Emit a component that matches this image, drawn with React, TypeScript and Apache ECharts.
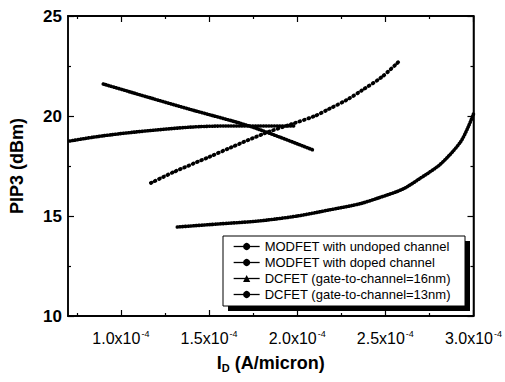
import React, { useEffect, useRef } from "react";
import * as echarts from "echarts";

// x values in units of 1e-4 A/micron, y in dBm
const undopedX = [1.32, 1.55, 1.78, 2.0, 2.18, 2.35, 2.46, 2.6, 2.7, 2.8, 2.87, 2.93, 2.97, 3.0];
const undopedY = [14.45, 14.6, 14.75, 15.0, 15.3, 15.6, 15.9, 16.35, 16.9, 17.5, 18.1, 18.75, 19.45, 20.1];

const dopedX = [1.17, 1.3, 1.5, 1.63, 1.82, 1.97, 2.1, 2.18, 2.28, 2.37, 2.48, 2.58];
const dopedY = [16.65, 17.2, 17.95, 18.45, 19.15, 19.6, 20.0, 20.35, 20.8, 21.3, 21.95, 22.75];

const dc16X = [0.9, 1.15, 1.405, 1.71, 1.9, 2.09];
const dc16Y = [21.6, 20.95, 20.3, 19.55, 18.95, 18.3];

const dc13X = [0.71, 0.85, 1.03, 1.2, 1.405, 1.6, 1.78, 1.99];
const dc13Y = [18.75, 18.95, 19.15, 19.3, 19.45, 19.5, 19.5, 19.5];

const seriesNames = [
  "MODFET with undoped channel",
  "MODFET with doped channel",
  "DCFET (gate-to-channel=16nm)",
  "DCFET (gate-to-channel=13nm)",
];

const xMajor = [1.0, 1.5, 2.0, 2.5, 3.0];
const xMinor = [0.75, 1.25, 1.75, 2.25, 2.75];
const yTicks = [10, 15, 20, 25];

const FONT = "'Liberation Sans', Arial, sans-serif";

const zip = (xs: number[], ys: number[]) => xs.map((x, i) => [x, ys[i]]);

export default function App() {
  const ref = useRef<HTMLDivElement>(null);
  useEffect(() => {
    if (!ref.current) return;
    const chart = echarts.init(ref.current, undefined, { renderer: "svg" });

    const makeX = (position: string, values: number[], len: number, main: boolean) => ({
      type: "value",
      position,
      min: 0.7,
      max: 3.0,
      splitLine: { show: false },
      axisLine: { show: true, onZero: false, lineStyle: { color: "#000", width: 1.5 } },
      axisTick: { show: true, inside: true, length: len, customValues: values, lineStyle: { color: "#000", width: 1.2 } },
      axisLabel: {
        show: main && position === "bottom",
        customValues: xMajor,
        margin: 13,
        formatter: (v: number) => `{a|${v.toFixed(1)}x10}{b|-4}`,
        rich: {
          a: { fontSize: 16, fontFamily: FONT, color: "#000" },
          b: { fontSize: 9, fontFamily: FONT, color: "#000", padding: [0, 0, 9, 1] },
        },
      },
      name: main && position === "bottom" ? "{a|I}{s|D}{a| (A/micron)}" : "",
      nameLocation: "middle",
      nameGap: 37,
      nameTextStyle: {
        rich: {
          a: { fontSize: 18, fontWeight: "bold", fontFamily: FONT, color: "#000" },
          s: { fontSize: 11, fontWeight: "bold", fontFamily: FONT, color: "#000", padding: [9, 0, 0, 0] },
        },
      },
    });

    const makeY = (position: string) => ({
      type: "value",
      position,
      min: 10,
      max: 25,
      interval: 5,
      splitLine: { show: false },
      axisLine: { show: true, onZero: false, lineStyle: { color: "#000", width: 1.5 } },
      axisTick: { show: true, inside: true, length: 6, lineStyle: { color: "#000", width: 1.2 } },
      minorTick: { show: true, splitNumber: 2, length: 3, lineStyle: { color: "#000", width: 1.2 } },
      axisLabel: {
        show: position === "left",
        margin: 6,
        fontSize: 17,
        fontWeight: "bold",
        fontFamily: FONT,
        color: "#000",
        customValues: yTicks,
      },
      name: position === "left" ? "PIP3 (dBm)" : "",
      nameLocation: "middle",
      nameGap: 42,
      nameTextStyle: { fontSize: 18, fontWeight: "bold", fontFamily: FONT, color: "#000" },
    });

    const dense = { color: "#000", width: 3.6, type: [0.5, 2.2], cap: "round" };
    const sparse = { color: "#000", width: 3.8, type: [0.8, 3.8], cap: "round" };

    const datasets = [
      { d: zip(undopedX, undopedY), ls: dense, sym: "circle" },
      { d: zip(dopedX, dopedY), ls: sparse, sym: "circle" },
      { d: zip(dc16X, dc16Y), ls: dense, sym: "triangle" },
      { d: zip(dc13X, dc13Y), ls: dense, sym: "circle" },
    ];

    chart.setOption({
      animation: false,
      backgroundColor: "#fff",
      grid: { left: 68, right: 27, top: 16, bottom: 66, show: true, borderColor: "#000", borderWidth: 1.5, backgroundColor: "transparent" },
      xAxis: [
        makeX("bottom", xMajor, 6, true),
        makeX("bottom", xMinor, 3, false),
        makeX("top", xMajor, 6, true),
        makeX("top", xMinor, 3, false),
      ],
      yAxis: [makeY("left"), makeY("right")],
      graphic: [
        { type: "rect", z: 3, shape: { x: 228, y: 241, width: 242, height: 70 }, style: { fill: "#000" } },
        { type: "rect", z: 3, shape: { x: 223, y: 236, width: 242, height: 70 }, style: { fill: "#fff", stroke: "#000", lineWidth: 1 } },
      ],
      legend: {
        z: 10,
        orient: "vertical",
        left: 233,
        top: 240,
        padding: 0,
        itemWidth: 26,
        itemHeight: 9,
        itemGap: 3,
        selectedMode: false,
        lineStyle: { type: "solid", width: 1.3, cap: "butt" },
        textStyle: { fontSize: 13, fontFamily: FONT, color: "#000", lineHeight: 13 },
        data: seriesNames,
      },
      series: datasets.map((s, i) => ({
        type: "line",
        name: seriesNames[i],
        data: s.d,
        smooth: 0.3,
        showSymbol: false,
        symbol: s.sym,
        symbolSize: 5,
        itemStyle: { color: "#000" },
        lineStyle: s.ls,
        xAxisIndex: 0,
        yAxisIndex: 0,
      })),
    });
    return () => chart.dispose();
  }, []);
  return <div ref={ref} style={{ position: "fixed", left: 0, top: 0, width: 505, height: 382 }} />;
}
